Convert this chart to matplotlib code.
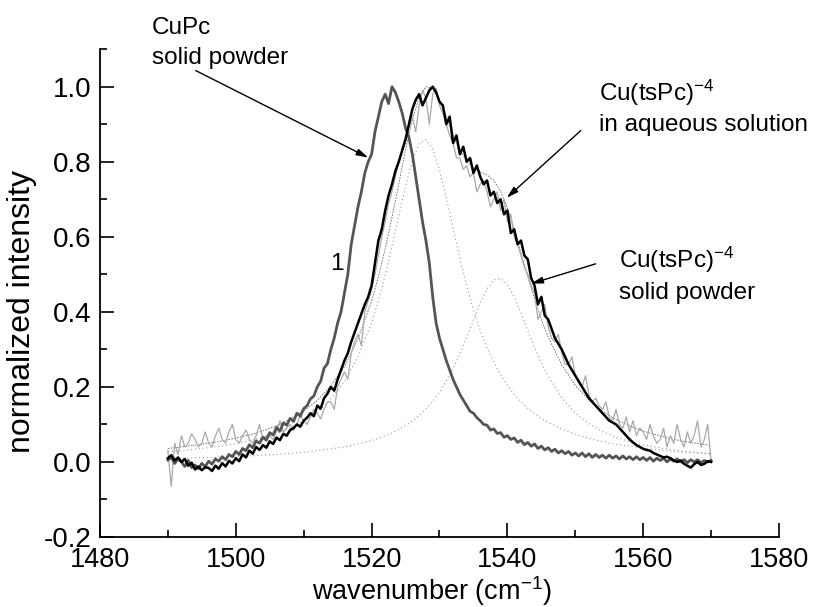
import numpy as np
import matplotlib
matplotlib.use("Agg")
from matplotlib import pyplot as plt
from matplotlib.ticker import MultipleLocator

plt.rcParams['font.family'] = ['Liberation Sans', 'DejaVu Sans']
plt.rcParams['mathtext.fontset'] = 'custom'
plt.rcParams['mathtext.rm'] = 'Liberation Sans'
plt.rcParams['mathtext.it'] = 'Liberation Sans:italic'

# wavenumber grid of the measured spectra (0.5 cm-1 steps, 1490..1570)
wavenumber = np.arange(1490, 1570.01, 0.5)

# CuPc solid powder (dark grey)
cupc_solid = [
    0.005, 0.012, -0.004, 0.008, 0.0, -0.012, 0.004, -0.015, -0.008, -0.018,
    -0.004, -0.012, 0.002, -0.006, 0.008, 0.002, 0.014, 0.006, 0.02, 0.014,
    0.028, 0.02, 0.036, 0.03, 0.046, 0.038, 0.056, 0.05, 0.066, 0.058,
    0.078, 0.072, 0.092, 0.082, 0.104, 0.098, 0.116, 0.108, 0.13, 0.122,
    0.142, 0.15, 0.168, 0.176, 0.2, 0.215, 0.25, 0.262, 0.3, 0.33,
    0.37, 0.4, 0.45, 0.5, 0.58, 0.63, 0.68, 0.72, 0.77, 0.8,
    0.82, 0.88, 0.92, 0.96, 0.98, 0.955, 1.0, 0.985, 0.96, 0.93,
    0.89, 0.865, 0.82, 0.76, 0.70, 0.64, 0.59, 0.53, 0.44, 0.37,
    0.33, 0.3, 0.27, 0.245, 0.22, 0.2, 0.18, 0.165, 0.15, 0.135,
    0.13, 0.118, 0.11, 0.1, 0.098, 0.085, 0.088, 0.076, 0.078, 0.066,
    0.07, 0.06, 0.064, 0.052, 0.058, 0.046, 0.052, 0.042, 0.048, 0.036,
    0.042, 0.032, 0.038, 0.028, 0.034, 0.024, 0.03, 0.022, 0.028, 0.018,
    0.024, 0.016, 0.024, 0.014, 0.022, 0.012, 0.02, 0.012, 0.018, 0.01,
    0.018, 0.01, 0.016, 0.008, 0.016, 0.008, 0.014, 0.006, 0.014, 0.006,
    0.012, 0.004, 0.012, 0.002, 0.01, 0.004, 0.01, 0.0, 0.008, 0.002,
    0.008, 0.0, 0.006, -0.002, 0.006, 0.0, 0.006, -0.002, 0.004, 0.0,
    0.004,
]

# Cu(tsPc)-4 solid powder (black)
cutspc_solid = [
    0.01, 0.018, 0.004, 0.012, 0.0, 0.008, -0.01, -0.002, -0.02, -0.012,
    -0.022, -0.014, -0.016, -0.024, -0.01, -0.018, -0.003, -0.012, 0.003, -0.004,
    0.01, 0.002, 0.02, 0.012, 0.03, 0.022, 0.04, 0.032, 0.045, 0.038,
    0.055, 0.048, 0.065, 0.058, 0.075, 0.07, 0.085, 0.09, 0.1, 0.094,
    0.11, 0.118, 0.13, 0.122, 0.15, 0.142, 0.17, 0.182, 0.2, 0.19,
    0.22, 0.245, 0.27, 0.29, 0.32, 0.345, 0.37, 0.395, 0.42, 0.44,
    0.47, 0.53, 0.59, 0.62, 0.67, 0.71, 0.74, 0.775, 0.8, 0.83,
    0.86, 0.9, 0.94, 0.965, 0.98, 0.95, 0.97, 0.99, 1.0, 0.985,
    0.96, 0.95, 0.9, 0.92, 0.85, 0.87, 0.82, 0.84, 0.8, 0.81,
    0.77, 0.79, 0.76, 0.74, 0.75, 0.71, 0.72, 0.69, 0.70, 0.66,
    0.67, 0.61, 0.62, 0.58, 0.59, 0.55, 0.54, 0.49, 0.47, 0.42,
    0.44, 0.39, 0.38, 0.355, 0.33, 0.315, 0.3, 0.28, 0.26, 0.245,
    0.23, 0.215, 0.2, 0.185, 0.17, 0.16, 0.15, 0.14, 0.13, 0.12,
    0.11, 0.105, 0.1, 0.09, 0.08, 0.07, 0.06, 0.052, 0.045, 0.04,
    0.035, 0.032, 0.03, 0.024, 0.02, 0.016, 0.012, 0.014, 0.01, 0.004,
    0.0, 0.004, -0.005, -0.01, -0.015, -0.006, 0.0, -0.008, -0.005, 0.002,
    0.0,
]

# Cu(tsPc)-4 in aqueous solution (light grey, noisy)
cutspc_aqueous = [
    0.03, -0.065, 0.05, 0.02, 0.07, 0.04, 0.05, 0.075, 0.06, 0.04,
    0.05, 0.08, 0.05, 0.04, 0.07, 0.09, 0.06, 0.05, 0.08, 0.1,
    0.06, 0.05, 0.07, 0.085, 0.06, 0.05, 0.07, 0.1, 0.06, 0.07,
    0.07, 0.06, 0.08, 0.11, 0.08, 0.09, 0.1, 0.085, 0.1, 0.125,
    0.11, 0.1, 0.12, 0.14, 0.13, 0.115, 0.14, 0.16, 0.16, 0.14,
    0.2, 0.22, 0.24, 0.22, 0.29, 0.32, 0.34, 0.31, 0.4, 0.43,
    0.46, 0.5, 0.55, 0.6, 0.64, 0.69, 0.72, 0.76, 0.8, 0.83,
    0.86, 0.89, 0.92, 0.88, 0.95, 0.99, 0.97, 0.9, 0.98, 0.995,
    0.95, 0.93, 0.9, 0.87, 0.85, 0.81, 0.81, 0.78, 0.79, 0.76,
    0.77, 0.72, 0.74, 0.75, 0.72, 0.68, 0.7, 0.72, 0.67, 0.7,
    0.64, 0.66, 0.6, 0.58, 0.55, 0.52, 0.5, 0.47, 0.45, 0.38,
    0.4, 0.42, 0.36, 0.33, 0.32, 0.34, 0.29, 0.26, 0.26, 0.28,
    0.23, 0.21, 0.2, 0.23, 0.18, 0.16, 0.17, 0.15, 0.14, 0.16,
    0.12, 0.11, 0.14, 0.1, 0.09, 0.12, 0.08, 0.11, 0.07, 0.09,
    0.08, 0.06, 0.1, 0.07, 0.05, 0.06, 0.09, 0.04, 0.07, 0.05,
    0.1, 0.06, 0.04, 0.08, 0.05, 0.07, 0.11, 0.04, 0.06, 0.1,
    0.0,
]

# fitted components (dotted)
fit_x = [1490, 1492, 1494, 1496, 1498, 1500, 1502, 1504, 1506, 1508,
         1510, 1512, 1514, 1516, 1518,
         1520, 1521, 1522, 1523, 1524, 1525, 1526, 1527, 1528, 1529,
         1530, 1531, 1532, 1533, 1534, 1535, 1536, 1537, 1538, 1539,
         1540, 1541, 1542, 1543, 1544, 1545, 1546,
         1548, 1550, 1552, 1554, 1556, 1558, 1560, 1562, 1564, 1566,
         1568, 1570]
fit_band1 = [0.027, 0.030, 0.034, 0.038, 0.043, 0.049, 0.056, 0.065, 0.076, 0.091,
             0.110, 0.134, 0.168, 0.214, 0.280,
             0.371, 0.430, 0.498, 0.574, 0.655, 0.735, 0.804, 0.848, 0.859, 0.834,
             0.778, 0.704, 0.623, 0.543, 0.470, 0.405, 0.350, 0.304, 0.265, 0.232,
             0.204, 0.180, 0.160, 0.143, 0.129, 0.116, 0.105,
             0.088, 0.074, 0.063, 0.054, 0.047, 0.042, 0.037, 0.033, 0.029, 0.026,
             0.024, 0.022]
fit_band2 = [0.009, 0.010, 0.011, 0.012, 0.013, 0.015, 0.016, 0.018, 0.020, 0.023,
             0.026, 0.030, 0.035, 0.040, 0.048,
             0.057, 0.063, 0.070, 0.077, 0.086, 0.097, 0.109, 0.124, 0.141, 0.161,
             0.186, 0.215, 0.249, 0.288, 0.332, 0.378, 0.423, 0.461, 0.485, 0.489,
             0.473, 0.440, 0.397, 0.350, 0.305, 0.264, 0.228,
             0.171, 0.130, 0.102, 0.081, 0.066, 0.054, 0.045, 0.039, 0.033, 0.029,
             0.025, 0.022]
fit_total = np.array(fit_band1) + np.array(fit_band2)

fig = plt.figure(figsize=(8.16, 6.07), dpi=100)
ax = fig.add_axes([0.1225, 0.1153, 0.8322, 0.8037])

ax.plot(fit_x, fit_band1, color='#9a9a9a', lw=0.8, ls=(0, (1, 2.5)))
ax.plot(fit_x, fit_band2, color='#9a9a9a', lw=0.8, ls=(0, (1, 2.5)))
ax.plot(fit_x, fit_total, color='#666666', lw=0.6, ls=(0, (2, 1.5)))
ax.plot(wavenumber, cutspc_aqueous, color='#a8a8a8', lw=0.9)
ax.plot(wavenumber, cupc_solid, color='#555555', lw=2.0)
ax.plot(wavenumber, cutspc_solid, color='black', lw=1.8)

ax.set_xlim(1480, 1580)
ax.set_ylim(-0.2, 1.1)
ax.xaxis.set_major_locator(MultipleLocator(20))
ax.xaxis.set_minor_locator(MultipleLocator(10))
ax.yaxis.set_major_locator(MultipleLocator(0.2))
ax.yaxis.set_minor_locator(MultipleLocator(0.1))
ax.yaxis.set_major_formatter(matplotlib.ticker.FormatStrFormatter('%.1f'))
ax.tick_params(which='major', direction='in', length=10, width=1.2, labelsize=20, pad=6)
ax.tick_params(which='minor', direction='in', length=5, width=1.2)
ax.tick_params(axis='x', which='major', labelsize=19.5, pad=7)
for side in ['top', 'right']:
    ax.spines[side].set_visible(False)
for side in ['left', 'bottom']:
    ax.spines[side].set_linewidth(1.3)

ax.set_xlabel(r'wavenumber (cm$^{\mathrm{-1}}$)', fontsize=19.5)
ax.set_ylabel('normalized intensity', fontsize=23)
ax.xaxis.set_label_coords(0.489, -0.076)
ax.yaxis.set_label_coords(-0.093, 0.463)

# labels and arrows
fs = 17.5
ax.text(1487.7, 1.141, 'CuPc', fontsize=fs, va='baseline', clip_on=False)
ax.text(1487.7, 1.061, 'solid powder', fontsize=fs, va='baseline', clip_on=False)
ax.text(1553.5, 0.963, r'Cu(tsPc)$^{\mathrm{-4}}$', fontsize=fs, va='baseline')
ax.text(1553.5, 0.883, 'in aqueous solution', fontsize=fs, va='baseline')
ax.text(1556.4, 0.517, r'Cu(tsPc)$^{\mathrm{-4}}$', fontsize=fs, va='baseline')
ax.text(1556.4, 0.435, 'solid powder', fontsize=fs, va='baseline')
ax.text(1514.9, 0.528, '1', fontsize=fs, ha='center', va='center')

arrow = dict(arrowstyle='-|>,head_length=0.7,head_width=0.2', color='black',
             lw=1.0, shrinkA=0, shrinkB=0)
ax.annotate('', xy=(1519.5, 0.811), xytext=(1494.1, 1.043), arrowprops=arrow,
            annotation_clip=False)
ax.annotate('', xy=(1539.9, 0.704), xytext=(1550.8, 0.883), arrowprops=arrow)
ax.annotate('', xy=(1543.5, 0.475), xytext=(1553.0, 0.528), arrowprops=arrow)

fig.savefig('out.png', dpi=100)
